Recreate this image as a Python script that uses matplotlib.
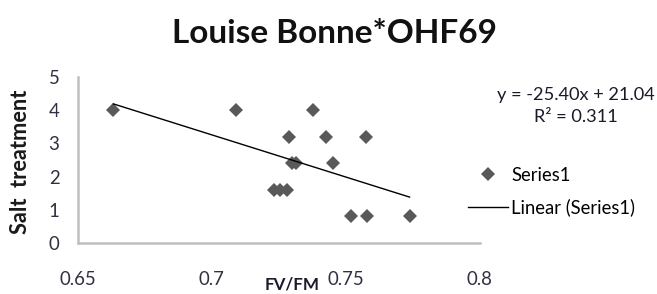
import numpy as np
import matplotlib.pyplot as plt

# Fv/Fm readings and salt treatment level
fv_fm = [0.6634, 0.7090, 0.7377, 0.7291, 0.7429, 0.7578, 0.7300, 0.7315,
         0.7455, 0.7233, 0.7257, 0.7282, 0.7519, 0.7582, 0.7739]
salt = [4, 4, 4, 3.2, 3.2, 3.2, 2.4, 2.4, 2.4, 1.6, 1.6, 1.6, 0.8, 0.8, 0.8]

# linear trend shown on the chart
slope = -25.40
intercept = 21.04
r2 = 0.311

x_ticks = [0.65, 0.7, 0.75, 0.8]
x_tick_labels = ['0.65', '0.7', '0.75', '0.8']
y_ticks = [0, 1, 2, 3, 4, 5]

plt.rcParams['font.family'] = ['Lato', 'DejaVu Sans']

W, H = 657, 294
fig = plt.figure(figsize=(W / 100, H / 100), dpi=100)
renderer = fig.canvas.get_renderer()


def fit(t, size_px, vertical=False):
    # scale the font so the text spans size_px pixels
    bb = t.get_window_extent(renderer)
    cur = bb.height if vertical else bb.width
    t.set_fontsize(t.get_fontsize() * size_px / cur)
    return t


def fit_size(s, size_px, **kw):
    t = fig.text(0, 0, s, fontsize=10, **kw)
    fit(t, size_px)
    fs = t.get_fontsize()
    t.remove()
    return fs


tick_fs = fit_size('0.65', 37)
legend_fs = fit_size('Series1', 60)

ax = fig.add_axes([77.5 / W, 1 - 243 / H, 402 / W, 166 / H])

ax.plot(fv_fm, salt, linestyle='none', marker='D', markersize=6.8,
        markeredgewidth=0, color='#595959', label='Series1')

x_line = np.array([min(fv_fm), max(fv_fm)])
ax.plot(x_line, slope * x_line + intercept, color='black', linewidth=1.0,
        label='Linear (Series1)')

ax.set_xlim(0.65, 0.8)
ax.set_ylim(0, 5)
ax.set_xticks(x_ticks)
ax.set_xticklabels(x_tick_labels)
ax.set_yticks(y_ticks)
ax.tick_params(axis='both', length=0, labelsize=tick_fs, labelcolor='#303040')
ax.tick_params(axis='x', pad=20)
ax.tick_params(axis='y', pad=13)

for side in ['top', 'right']:
    ax.spines[side].set_visible(False)
for side in ['left', 'bottom']:
    ax.spines[side].set_color('#c0c0c0')
    ax.spines[side].set_linewidth(1.8)

title = fig.text(334.5 / W, 1 - 43 / H, 'Louise Bonne*OHF69', ha='center',
                 va='baseline', fontsize=20, fontweight='bold', color='#111111')
fit(title, 325)

ylab = fig.text(20.5 / W, 1 - 161.5 / H, 'Salt  treatment', ha='center',
                va='center', rotation=90, fontsize=12, fontweight='bold',
                color='#1a1a1a')
fit(ylab, 143, vertical=True)

# sits just left of the 0.75 label so the two do not collide
xlab = fig.text(292 / W, 1 - 276 / H, 'FV/FM', ha='center', va='top',
                fontsize=12, fontweight='bold', color='#1a1a2a')
fit(xlab, 55)

eq = fig.text(576 / W, 1 - 95 / H, 'y = -25.40x + 21.04', ha='center',
              va='center', fontsize=12, color='#1a1a2a')
fit(eq, 158)
fig.text(576 / W, 1 - 117.5 / H, 'R² = %.3f' % r2, ha='center', va='center',
         fontsize=eq.get_fontsize(), color='#1a1a2a')

fs_px = legend_fs * 100 / 72
fig.legend(loc='center left', bbox_to_anchor=(468 / W, 1 - 191.5 / H),
           frameon=False, fontsize=legend_fs, borderpad=0, borderaxespad=0,
           handlelength=40 / fs_px, handletextpad=3 / fs_px,
           labelspacing=0.8)

fig.savefig('out.png', dpi=100)
